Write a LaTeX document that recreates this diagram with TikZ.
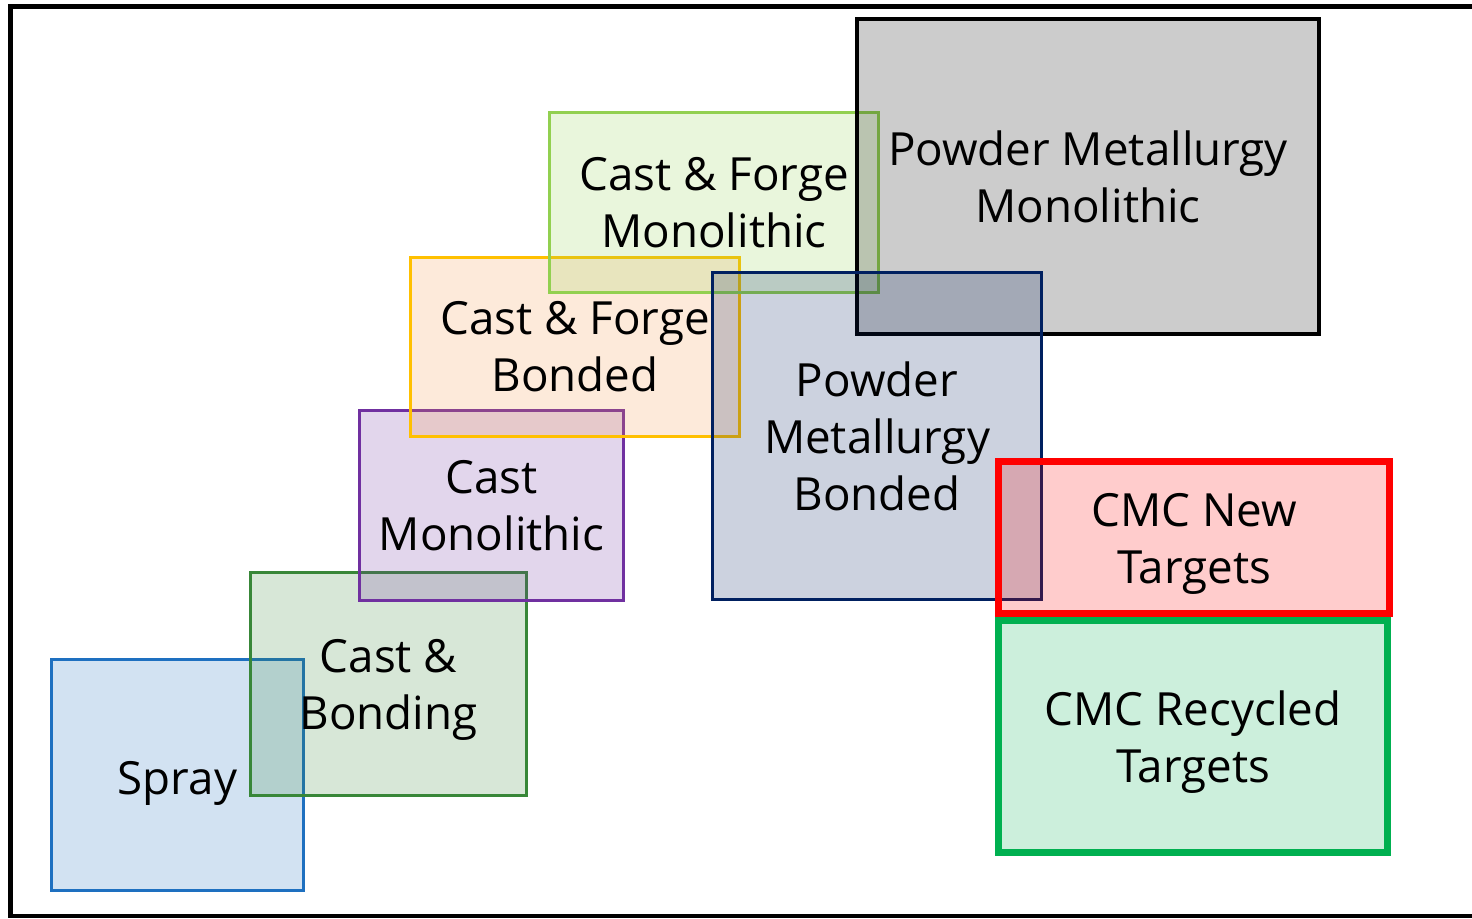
\documentclass[tikz,border=0pt]{standalone}
\usepackage{fontspec}
\setmainfont{Open Sans}
\definecolor{sprayblue}{RGB}{30,112,192}
\definecolor{bondgreen}{RGB}{56,135,56}
\definecolor{castpurple}{RGB}{112,48,160}
\definecolor{gold}{RGB}{255,192,0}
\definecolor{peach}{RGB}{247,150,70}
\definecolor{leafgreen}{RGB}{146,208,80}
\definecolor{navy}{RGB}{0,32,96}
\definecolor{cmcred}{RGB}{255,0,0}
\definecolor{cmcgreen}{RGB}{0,176,80}
\tikzset{
  stage/.style={draw=#1, fill=#1, line width=0.85pt, fill opacity=0.2,
    text opacity=1, align=center, inner sep=0pt,
    font=\fontsize{13}{16.2}\selectfont},
  target/.style={stage=#1, line width=2pt},
  caption/.style={align=center, inner sep=0pt, font=\fontsize{13}{16.2}\selectfont},
}

\begin{document}
\begin{tikzpicture}[x=0.01cm, y=-0.01cm]
    \clip (0,0) rectangle (1472,919);
    \draw[line width=1.4pt] (1500,6.5) -- (10.5,6.5) -- (10.5,916) -- (1500,916);
    \node[stage=sprayblue, minimum width=2.51cm, minimum height=2.30cm] (spray) at (177.5,775) {};
    \node[stage=bondgreen, minimum width=2.75cm, minimum height=2.22cm] (castbond) at (388.5,684) {};
    \node[stage=castpurple, minimum width=2.63cm, minimum height=1.89cm] (castmono) at (491.5,505.5) {Cast\\Monolithic};
    \node[stage=gold, fill=peach, minimum width=3.28cm, minimum height=1.78cm] (cfbond) at (575,347) {Cast \& Forge\\Bonded};
    \node[stage=leafgreen, minimum width=3.28cm, minimum height=1.79cm] (cfmono) at (714,202.5) {Cast \& Forge\\Monolithic};
    \node[stage=black, line width=1pt, minimum width=4.62cm, minimum height=3.15cm] (pmmono) at (1088,176.5) {Powder Metallurgy\\Monolithic};
    \node[stage=navy, minimum width=3.28cm, minimum height=3.26cm] (pmbond) at (877,436) {Powder\\Metallurgy\\Bonded};
    \node[target=cmcred, minimum width=3.90cm, minimum height=1.51cm] (cmcnew) at (1194,537.5) {};
    \node[target=cmcgreen, minimum width=3.88cm, minimum height=2.31cm] (cmcrec) at (1193,736.5) {};
    \node[caption, yshift=-0.08cm] (spraytxt) at (spray) {Spray};
    \node[caption, yshift=-0.06cm] (castbondtxt) at (castbond) {Cast \&\\Bonding};
    \node[caption, yshift=-0.065cm] (cmcnewtxt) at (cmcnew) {CMC New\\Targets};
    \node[caption, yshift=-0.055cm] (cmcrectxt) at (cmcrec) {CMC Recycled\\Targets};
\end{tikzpicture}
\end{document}
